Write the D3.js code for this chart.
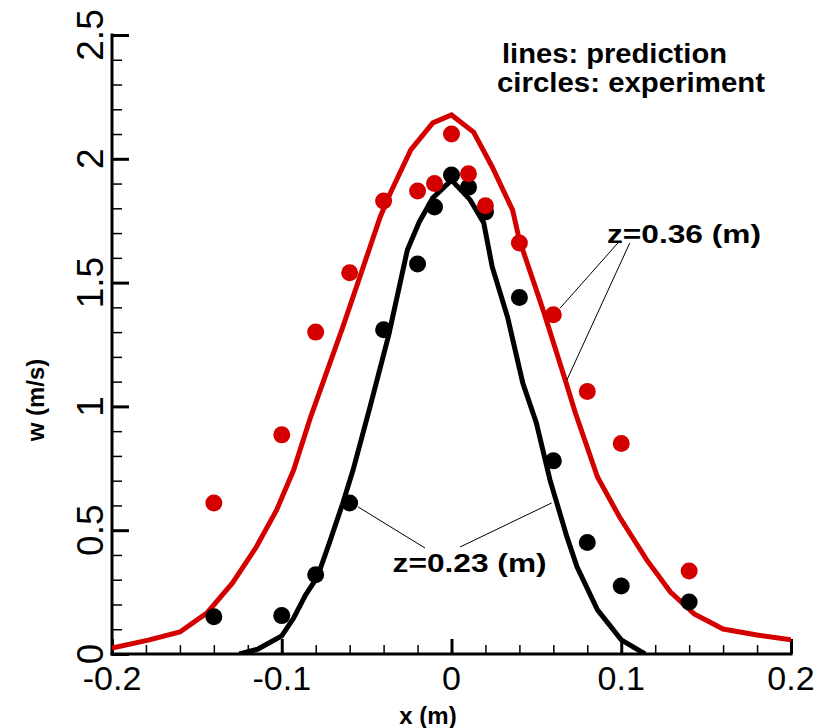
<!DOCTYPE html>
<html>
<head>
<meta charset="utf-8">
<script src="https://cdn.jsdelivr.net/npm/d3@7"></script>
<style>
  body { margin: 0; background: #fff; }
  svg { display: block; font-family: "Liberation Sans", Arial, sans-serif; }
</style>
</head>
<body>
<svg id="chart" width="834" height="728"></svg>
<script>
// experiment (circles)
var expX = [-0.14, -0.1, -0.08, -0.06, -0.04, -0.02, -0.01, 0, 0.01, 0.02, 0.04, 0.06, 0.08, 0.1, 0.14];
var exp036 = [0.61, 0.885, 1.30, 1.54, 1.83, 1.87, 1.90, 2.10, 1.94, 1.81, 1.66, 1.37, 1.06, 0.85, 0.335];
var exp023 = [0.15, 0.155, 0.32, 0.61, 1.31, 1.575, 1.805, 1.935, 1.885, 1.785, 1.44, 0.78, 0.45, 0.275, 0.21];

// prediction z=0.36 (red line)
var pred036X = [-0.2, -0.178, -0.16, -0.144, -0.129, -0.115, -0.103, -0.093, -0.083, -0.064, -0.042, -0.036, -0.024, -0.011, 0,
                0.013, 0.024, 0.036, 0.04, 0.054, 0.067, 0.073, 0.086, 0.099, 0.115, 0.129, 0.143, 0.16, 0.18, 0.2];
var pred036Y = [0.024, 0.057, 0.089, 0.166, 0.287, 0.432, 0.582, 0.743, 0.957, 1.321, 1.765, 1.862, 2.036, 2.145, 2.177,
                2.108, 1.967, 1.793, 1.672, 1.389, 1.107, 0.973, 0.715, 0.553, 0.38, 0.25, 0.162, 0.101, 0.077, 0.057];

// prediction z=0.23 (black line)
var pred023X = [-0.125, -0.114, -0.1, -0.093, -0.086, -0.079, -0.072, -0.064, -0.058, -0.048, -0.037, -0.026, -0.019, -0.011, 0,
                0.011, 0.019, 0.024, 0.033, 0.042, 0.05, 0.058, 0.068, 0.074, 0.086, 0.1, 0.114];
var pred023Y = [0, 0.02, 0.073, 0.145, 0.238, 0.311, 0.448, 0.61, 0.743, 0.998, 1.288, 1.632, 1.745, 1.842, 1.914,
                1.834, 1.741, 1.563, 1.361, 1.094, 0.933, 0.703, 0.473, 0.351, 0.178, 0.057, 0];

var xTicks = [-0.2, -0.1, 0, 0.1, 0.2];
var yTicks = [0, 0.5, 1, 1.5, 2, 2.5];

(function() {
  var svg = d3.select("#chart");
  var mLeft = 112, mRight = 791, mTop = 35, mBottom = 654;

  var x = d3.scaleLinear().domain([-0.2, 0.2]).range([mLeft, mRight]);
  var y = d3.scaleLinear().domain([0, 2.5]).range([mBottom, mTop]);

  var red = "#d40000";

  // clip for lines
  svg.append("clipPath").attr("id", "plotclip")
    .append("rect").attr("x", mLeft).attr("y", mTop).attr("width", mRight - mLeft).attr("height", mBottom - mTop);

  // axes: ticks pointing inward
  var xMinor = d3.range(-0.2, 0.2001, 0.02).map(function(d) { return Math.round(d * 100) / 100; });
  var yMinor = d3.range(0, 2.5001, 0.1).map(function(d) { return Math.round(d * 10) / 10; });

  var gx = svg.append("g").attr("transform", "translate(0," + mBottom + ")");
  gx.call(d3.axisTop(x).tickValues(xMinor).tickSize(9).tickFormat(""))
    .selectAll(".tick line").attr("stroke-width", 1.5);
  gx.select(".domain").remove();
  var gx2 = svg.append("g").attr("transform", "translate(0," + mBottom + ")");
  gx2.call(d3.axisTop(x).tickValues(xTicks).tickSize(15).tickFormat(""))
    .selectAll(".tick line").attr("stroke-width", 3);
  gx2.select(".domain").remove();

  var gy = svg.append("g").attr("transform", "translate(" + mLeft + ",0)");
  gy.call(d3.axisRight(y).tickValues(yMinor).tickSize(10).tickFormat(""))
    .selectAll(".tick line").attr("stroke-width", 1.5);
  gy.select(".domain").remove();
  var gy2 = svg.append("g").attr("transform", "translate(" + mLeft + ",0)");
  gy2.call(d3.axisRight(y).tickValues(yTicks).tickSize(17).tickFormat(""))
    .selectAll(".tick line").attr("stroke-width", 3);
  gy2.select(".domain").remove();

  // axis lines
  svg.append("line").attr("x1", mLeft).attr("x2", mRight).attr("y1", mBottom).attr("y2", mBottom)
    .attr("stroke", "#000").attr("stroke-width", 3).attr("stroke-linecap", "square");
  svg.append("line").attr("x1", mLeft).attr("x2", mLeft).attr("y1", mBottom).attr("y2", mTop)
    .attr("stroke", "#000").attr("stroke-width", 3).attr("stroke-linecap", "square");

  // tick labels (plain hyphen minus like the original)
  svg.selectAll(".xlab").data(xTicks).enter().append("text")
    .attr("x", function(d) { return x(d); }).attr("y", mBottom + 36)
    .attr("text-anchor", "middle").attr("font-size", 34)
    .text(function(d) { return String(d); });

  svg.selectAll(".ylab").data(yTicks).enter().append("text")
    .attr("transform", function(d) { return "translate(" + (mLeft - 9) + "," + y(d) + ") rotate(-90)"; })
    .attr("text-anchor", "middle").attr("font-size", 37)
    .text(function(d) { return String(d); });

  // axis titles
  svg.append("text").attr("x", 428).attr("y", 724).attr("text-anchor", "middle")
    .attr("font-size", 24).attr("font-weight", "bold").text("x (m)");
  svg.append("text").attr("transform", "translate(44,400) rotate(-90)").attr("text-anchor", "middle")
    .attr("font-size", 24).attr("font-weight", "bold").text("w (m/s)");

  // prediction lines
  var line = d3.line().x(function(d) { return x(d[0]); }).y(function(d) { return y(d[1]); });
  var plot = svg.append("g").attr("clip-path", "url(#plotclip)");
  plot.append("path").datum(d3.zip(pred036X, pred036Y)).attr("d", line)
    .attr("fill", "none").attr("stroke", red).attr("stroke-width", 5).attr("stroke-linejoin", "miter");
  plot.append("path").datum(d3.zip(pred023X, pred023Y)).attr("d", line)
    .attr("fill", "none").attr("stroke", "#000").attr("stroke-width", 5).attr("stroke-linejoin", "miter");

  // experiment circles
  svg.selectAll(".c023").data(d3.zip(expX, exp023)).enter().append("circle")
    .attr("cx", function(d) { return x(d[0]); }).attr("cy", function(d) { return y(d[1]); })
    .attr("r", 8.5).attr("fill", "#000");
  svg.selectAll(".c036").data(d3.zip(expX, exp036)).enter().append("circle")
    .attr("cx", function(d) { return x(d[0]); }).attr("cy", function(d) { return y(d[1]); })
    .attr("r", 8.5).attr("fill", red);

  // annotations
  var leaders = [
    [0.098, 1.66, 0.064, 1.397],
    [0.105, 1.66, 0.068, 1.107],
    [-0.0156, 0.428, -0.055, 0.594],
    [0.005, 0.432, 0.059, 0.61]
  ];
  svg.selectAll(".leader").data(leaders).enter().append("line")
    .attr("x1", function(d) { return x(d[0]); }).attr("y1", function(d) { return y(d[1]); })
    .attr("x2", function(d) { return x(d[2]); }).attr("y2", function(d) { return y(d[3]); })
    .attr("stroke", "#000").attr("stroke-width", 1);

  svg.append("text").attr("x", x(0.0916)).attr("y", y(1.66)).attr("font-size", 26).attr("font-weight", "bold")
    .attr("textLength", 154).attr("lengthAdjust", "spacingAndGlyphs").text("z=0.36 (m)");
  svg.append("text").attr("x", x(-0.0347)).attr("y", y(0.33)).attr("font-size", 26).attr("font-weight", "bold")
    .attr("textLength", 154).attr("lengthAdjust", "spacingAndGlyphs").text("z=0.23 (m)");

  svg.append("text").attr("x", 502).attr("y", 63).attr("font-size", 27).attr("font-weight", "bold")
    .attr("textLength", 225).attr("lengthAdjust", "spacingAndGlyphs").text("lines: prediction");
  svg.append("text").attr("x", 497).attr("y", 92).attr("font-size", 27).attr("font-weight", "bold")
    .attr("textLength", 268).attr("lengthAdjust", "spacingAndGlyphs").text("circles: experiment");
})();
</script>
</body>
</html>
